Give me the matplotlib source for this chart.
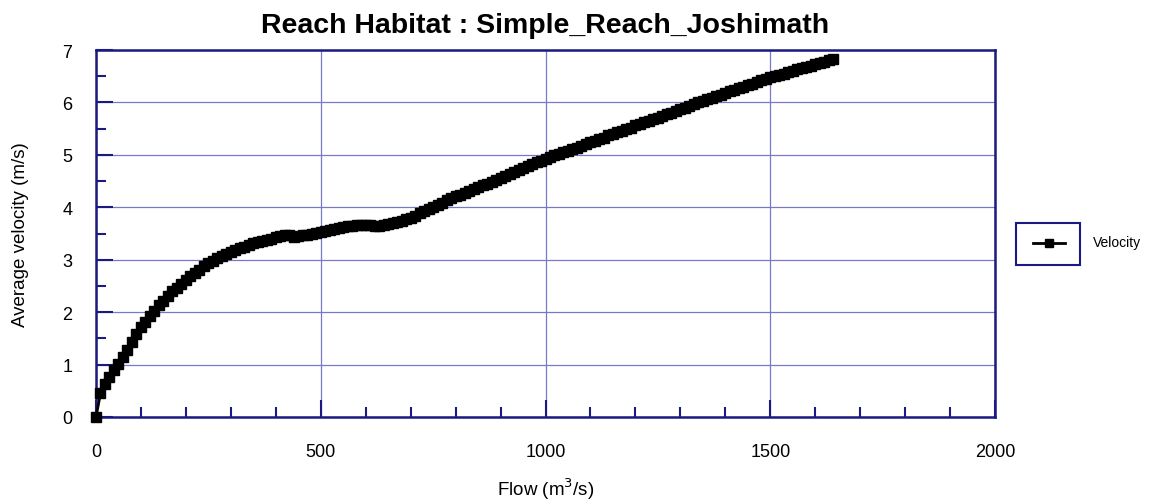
import matplotlib
matplotlib.use("Agg")
import matplotlib.pyplot as plt
from matplotlib.patches import Rectangle
from matplotlib.lines import Line2D
from matplotlib.ticker import MultipleLocator

# --- data: discharge (m3/s) vs reach-averaged velocity (m/s) ---
flow = [
    0, 10, 20, 30, 40, 50, 60, 70, 80, 90,
    100, 110, 120, 130, 140, 150, 160, 170, 180, 190,
    200, 210, 220, 230, 240, 250, 260, 270, 280, 290,
    300, 310, 320, 330, 340, 350, 360, 370, 380, 390,
    400, 410, 420, 430, 440, 450, 460, 470, 480, 490,
    500, 510, 520, 530, 540, 550, 560, 570, 580, 590,
    600, 610, 620, 630, 640, 650, 660, 670, 680, 690,
    700, 710, 720, 730, 740, 750, 760, 770, 780, 790,
    800, 810, 820, 830, 840, 850, 860, 870, 880, 890,
    900, 910, 920, 930, 940, 950, 960, 970, 980, 990,
    1000, 1010, 1020, 1030, 1040, 1050, 1060, 1070, 1080, 1090,
    1100, 1110, 1120, 1130, 1140, 1150, 1160, 1170, 1180, 1190,
    1200, 1210, 1220, 1230, 1240, 1250, 1260, 1270, 1280, 1290,
    1300, 1310, 1320, 1330, 1340, 1350, 1360, 1370, 1380, 1390,
    1400, 1410, 1420, 1430, 1440, 1450, 1460, 1470, 1480, 1490,
    1500, 1510, 1520, 1530, 1540, 1550, 1560, 1570, 1580, 1590,
    1600, 1610, 1620, 1630, 1640,
]
velocity = [
    0.00, 0.45, 0.63, 0.77, 0.90, 1.02, 1.14, 1.27, 1.43, 1.58,
    1.71, 1.82, 1.92, 2.02, 2.13, 2.22, 2.31, 2.40, 2.47, 2.54,
    2.61, 2.68, 2.75, 2.81, 2.88, 2.93, 2.98, 3.03, 3.07, 3.11,
    3.15, 3.19, 3.22, 3.25, 3.28, 3.31, 3.33, 3.36, 3.38, 3.40,
    3.43, 3.46, 3.48, 3.47, 3.44, 3.45, 3.47, 3.48, 3.50, 3.51,
    3.53, 3.55, 3.57, 3.59, 3.61, 3.63, 3.64, 3.65, 3.66, 3.67,
    3.67, 3.66, 3.64, 3.65, 3.66, 3.68, 3.70, 3.72, 3.74, 3.77,
    3.80, 3.84, 3.89, 3.93, 3.97, 4.01, 4.05, 4.09, 4.13, 4.17,
    4.21, 4.24, 4.28, 4.31, 4.35, 4.38, 4.42, 4.45, 4.49, 4.52,
    4.56, 4.60, 4.64, 4.67, 4.71, 4.74, 4.78, 4.82, 4.86, 4.89,
    4.93, 4.96, 4.99, 5.02, 5.05, 5.08, 5.11, 5.14, 5.17, 5.20,
    5.24, 5.27, 5.30, 5.33, 5.37, 5.40, 5.43, 5.46, 5.49, 5.52,
    5.56, 5.59, 5.62, 5.65, 5.68, 5.71, 5.74, 5.77, 5.80, 5.84,
    5.87, 5.90, 5.93, 5.97, 6.00, 6.03, 6.06, 6.09, 6.12, 6.15,
    6.18, 6.21, 6.24, 6.27, 6.30, 6.33, 6.36, 6.39, 6.42, 6.45,
    6.48, 6.50, 6.53, 6.55, 6.58, 6.60, 6.63, 6.65, 6.68, 6.70,
    6.73, 6.75, 6.78, 6.80, 6.83,
]
series_name = "Velocity"
x_ticks = [0, 500, 1000, 1500, 2000]
y_ticks = [0, 1, 2, 3, 4, 5, 6, 7]

NAVY = "#1a1a80"
GRID = "#7878c8"

plt.rcParams["font.family"] = ["Liberation Sans", "DejaVu Sans"]

fig = plt.figure(figsize=(11.53, 5.02), dpi=100, facecolor="white")
ax = fig.add_axes([96 / 1153, 84 / 502, 899 / 1153, 367 / 502])

ax.plot(flow, velocity, color="black", lw=2.0, marker="s", markersize=6.5,
        markerfacecolor="black", markeredgecolor="black", zorder=3,
        clip_on=False)

ax.set_xlim(0, 2000)
ax.set_ylim(0, 7)
ax.set_xticks(x_ticks)
ax.set_yticks(y_ticks)
ax.xaxis.set_minor_locator(MultipleLocator(100))
ax.yaxis.set_minor_locator(MultipleLocator(0.5))
ax.grid(True, which="major", color=GRID, lw=0.9)
ax.set_axisbelow(True)

for side in ["top", "right", "bottom", "left"]:
    ax.spines[side].set_color(NAVY)
    ax.spines[side].set_linewidth(1.8)

ax.tick_params(which="major", direction="in", length=12, width=1.5,
               color=NAVY, labelsize=13, labelcolor="black")
ax.tick_params(which="minor", direction="in", length=7, width=1.5, color=NAVY)
ax.tick_params(axis="x", which="major", pad=19)
ax.tick_params(axis="y", which="major", pad=17)

ax.set_xlabel("Flow (m$^3$/s)", fontsize=13.5)
ax.set_ylabel("Average velocity (m/s)", fontsize=13.5)
ax.xaxis.set_label_coords(0.5, -0.16)
ax.yaxis.set_label_coords(-0.074, 0.5)
ax.set_title("Reach Habitat : Simple_Reach_Joshimath", fontsize=20.5,
             fontweight="bold", pad=13)

# legend drawn by hand: framed marker sample with the label beside it
W, H = 1153, 502
fig.add_artist(Rectangle((1016 / W, (H - 266) / H), 64 / W, 42 / H,
                         transform=fig.transFigure, fill=False,
                         edgecolor=NAVY, lw=1.5))
fig.add_artist(Line2D([1033 / W, 1065 / W], [(H - 244) / H] * 2,
                      transform=fig.transFigure, color="black", lw=2))
fig.add_artist(Line2D([1049 / W], [(H - 244) / H], transform=fig.transFigure,
                      color="black", marker="s", markersize=6, lw=0))
fig.text(1093 / W, (H - 243) / H, series_name, fontsize=10, va="center",
         ha="left")

fig.savefig("out.png", dpi=100, facecolor="white")
